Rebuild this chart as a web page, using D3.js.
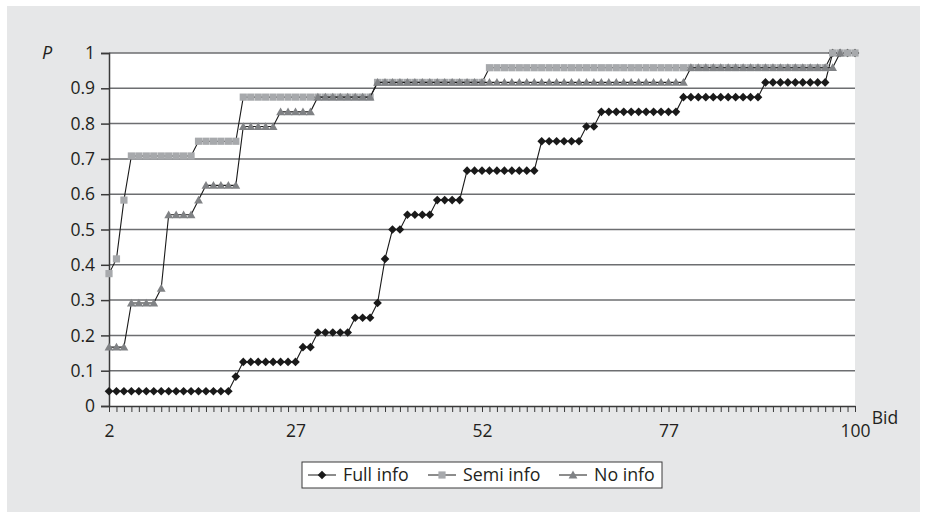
<!DOCTYPE html>
<html>
<head>
<meta charset="utf-8">
<script src="https://cdn.jsdelivr.net/npm/d3@7/dist/d3.min.js"></script>
<style>
  html, body { margin: 0; padding: 0; background: #ffffff; }
  svg { display: block; }
  text { font-family: "Open Sans", "Noto Sans", sans-serif; fill: #231f20; }
</style>
</head>
<body>
<svg id="chart" width="927" height="519"></svg>
<script>
// Cumulative share of bidders (P) at or below each bid, one value per bid step.
const fullInfo = [
  0.0417,0.0417,0.0417,0.0417,0.0417,0.0417,0.0417,0.0417,0.0417,0.0417,
  0.0417,0.0417,0.0417,0.0417,0.0417,0.0417,0.0417,0.0833,0.125,0.125,
  0.125,0.125,0.125,0.125,0.125,0.125,0.1667,0.1667,0.2083,0.2083,
  0.2083,0.2083,0.2083,0.25,0.25,0.25,0.2917,0.4167,0.5,0.5,
  0.5417,0.5417,0.5417,0.5417,0.5833,0.5833,0.5833,0.5833,0.6667,0.6667,
  0.6667,0.6667,0.6667,0.6667,0.6667,0.6667,0.6667,0.6667,0.75,0.75,
  0.75,0.75,0.75,0.75,0.7917,0.7917,0.8333,0.8333,0.8333,0.8333,
  0.8333,0.8333,0.8333,0.8333,0.8333,0.8333,0.8333,0.875,0.875,0.875,
  0.875,0.875,0.875,0.875,0.875,0.875,0.875,0.875,0.9167,0.9167,
  0.9167,0.9167,0.9167,0.9167,0.9167,0.9167,0.9167,1,1,1,
  1
];
const semiInfo = [
  0.375,0.4167,0.5833,0.7083,0.7083,0.7083,0.7083,0.7083,0.7083,0.7083,
  0.7083,0.7083,0.75,0.75,0.75,0.75,0.75,0.75,0.875,0.875,
  0.875,0.875,0.875,0.875,0.875,0.875,0.875,0.875,0.875,0.875,
  0.875,0.875,0.875,0.875,0.875,0.875,0.9167,0.9167,0.9167,0.9167,
  0.9167,0.9167,0.9167,0.9167,0.9167,0.9167,0.9167,0.9167,0.9167,0.9167,
  0.9167,0.9583,0.9583,0.9583,0.9583,0.9583,0.9583,0.9583,0.9583,0.9583,
  0.9583,0.9583,0.9583,0.9583,0.9583,0.9583,0.9583,0.9583,0.9583,0.9583,
  0.9583,0.9583,0.9583,0.9583,0.9583,0.9583,0.9583,0.9583,0.9583,0.9583,
  0.9583,0.9583,0.9583,0.9583,0.9583,0.9583,0.9583,0.9583,0.9583,0.9583,
  0.9583,0.9583,0.9583,0.9583,0.9583,0.9583,0.9583,1,1,1,
  1
];
const noInfo = [
  0.1667,0.1667,0.1667,0.2917,0.2917,0.2917,0.2917,0.3333,0.5417,0.5417,
  0.5417,0.5417,0.5833,0.625,0.625,0.625,0.625,0.625,0.7917,0.7917,
  0.7917,0.7917,0.7917,0.8333,0.8333,0.8333,0.8333,0.8333,0.875,0.875,
  0.875,0.875,0.875,0.875,0.875,0.875,0.9167,0.9167,0.9167,0.9167,
  0.9167,0.9167,0.9167,0.9167,0.9167,0.9167,0.9167,0.9167,0.9167,0.9167,
  0.9167,0.9167,0.9167,0.9167,0.9167,0.9167,0.9167,0.9167,0.9167,0.9167,
  0.9167,0.9167,0.9167,0.9167,0.9167,0.9167,0.9167,0.9167,0.9167,0.9167,
  0.9167,0.9167,0.9167,0.9167,0.9167,0.9167,0.9167,0.9167,0.9583,0.9583,
  0.9583,0.9583,0.9583,0.9583,0.9583,0.9583,0.9583,0.9583,0.9583,0.9583,
  0.9583,0.9583,0.9583,0.9583,0.9583,0.9583,0.9583,0.9583,1
];

const seriesNames = ["Full info", "Semi info", "No info"];

// Category axis: one step per bid, labelled every 25 steps.
const xTickSteps  = [0, 25, 50, 75, 100];
const xTickLabels = ["2", "27", "52", "77", "100"];
const yTicks = [0, 0.1, 0.2, 0.3, 0.4, 0.5, 0.6, 0.7, 0.8, 0.9, 1];
const yTickLabels = ["0", "0.1", "0.2", "0.3", "0.4", "0.5", "0.6", "0.7", "0.8", "0.9", "1"];

const svg = d3.select("#chart");

// panel background
svg.append("rect")
  .attr("x", 7).attr("y", 6).attr("width", 913).attr("height", 506)
  .attr("fill", "#e6e7e8");

const plotLeft = 109, plotRight = 855, plotTop = 53, plotBottom = 406;
const x = d3.scaleLinear().domain([0, 100]).range([plotLeft, plotRight]);
const y = d3.scaleLinear().domain([0, 1]).range([plotBottom, plotTop]);

// plot area
svg.append("rect")
  .attr("x", plotLeft).attr("y", plotTop)
  .attr("width", plotRight - plotLeft).attr("height", plotBottom - plotTop)
  .attr("fill", "#ffffff");

// horizontal gridlines
svg.append("g")
  .selectAll("line")
  .data(yTicks.slice(1))
  .join("line")
  .attr("x1", plotLeft).attr("x2", plotRight)
  .attr("y1", d => y(d)).attr("y2", d => y(d))
  .attr("stroke", "#6d6e71")
  .attr("stroke-width", 1.5);

// y axis
const yAxis = d3.axisLeft(y)
  .tickValues(yTicks)
  .tickFormat((d, i) => yTickLabels[i])
  .tickSize(8)
  .tickPadding(6);
const gy = svg.append("g").attr("transform", `translate(${plotLeft},0)`).call(yAxis);
gy.select(".domain").attr("stroke", "#3a3a3a").attr("stroke-width", 1.5);
gy.selectAll(".tick line").attr("stroke", "#3a3a3a").attr("stroke-width", 1.5);
gy.selectAll(".tick text")
  .attr("font-size", 17.5)
  .attr("font-family", "'Open Sans', 'Noto Sans', sans-serif")
  .attr("fill", "#231f20");

// x axis: a tick at every bid step, labels every 25
const xAxis = d3.axisBottom(x)
  .tickValues(d3.range(0, 101))
  .tickFormat(d => {
    const k = xTickSteps.indexOf(d);
    return k >= 0 ? xTickLabels[k] : "";
  })
  .tickSize(6)
  .tickSizeOuter(0)
  .tickPadding(13);
const gx = svg.append("g").attr("transform", `translate(0,${plotBottom})`).call(xAxis);
gx.select(".domain").attr("stroke", "#3a3a3a").attr("stroke-width", 1.5);
gx.selectAll(".tick line").attr("stroke", "#3a3a3a").attr("stroke-width", 1);
gx.selectAll(".tick text")
  .attr("font-size", 17.5)
  .attr("font-family", "'Open Sans', 'Noto Sans', sans-serif")
  .attr("fill", "#231f20");

// axis titles
svg.append("text")
  .attr("x", 47).attr("y", 59)
  .attr("text-anchor", "middle")
  .attr("font-size", 18)
  .attr("font-style", "italic")
  .text("P");
svg.append("text")
  .attr("x", 885).attr("y", 424)
  .attr("text-anchor", "middle")
  .attr("font-size", 17.5)
  .text("Bid");

// marker shapes
const diamond = "M0,-4.3L4.3,0L0,4.3L-4.3,0Z";
const square = "M-3.6,-3.6H3.6V3.6H-3.6Z";
const triangle = "M0,-4.4L4.4,3.4H-4.4Z";

const styles = [
  { values: fullInfo, path: diamond,  fill: "#1a1a1a" },
  { values: semiInfo, path: square,   fill: "#a7a9ac" },
  { values: noInfo,   path: triangle, fill: "#808285" }
];

const line = d3.line().x((d, i) => x(i)).y(d => y(d));

styles.forEach((s, k) => {
  const g = svg.append("g").attr("class", "series-" + k);
  g.append("path")
    .attr("d", line(s.values))
    .attr("fill", "none")
    .attr("stroke", "#1a1a1a")
    .attr("stroke-width", 1.1);
  g.selectAll("path.mark")
    .data(s.values)
    .join("path")
    .attr("class", "mark")
    .attr("d", s.path)
    .attr("transform", (d, i) => `translate(${x(i)},${y(d)})`)
    .attr("fill", s.fill);
});

// legend
const lg = svg.append("g");
lg.append("rect")
  .attr("x", 302).attr("y", 462).attr("width", 360).attr("height", 26)
  .attr("fill", "#ffffff").attr("stroke", "#3a3a3a").attr("stroke-width", 1);
const legendX = [308, 428, 559];
styles.forEach((s, k) => {
  const cx = legendX[k];
  lg.append("line")
    .attr("x1", cx).attr("x2", cx + 28)
    .attr("y1", 475).attr("y2", 475)
    .attr("stroke", "#1a1a1a").attr("stroke-width", 1);
  lg.append("path")
    .attr("d", s.path)
    .attr("transform", `translate(${cx + 14},475)`)
    .attr("fill", s.fill);
  lg.append("text")
    .attr("x", cx + 35).attr("y", 481)
    .attr("font-size", 17.8)
    .text(seriesNames[k]);
});
</script>
</body>
</html>
